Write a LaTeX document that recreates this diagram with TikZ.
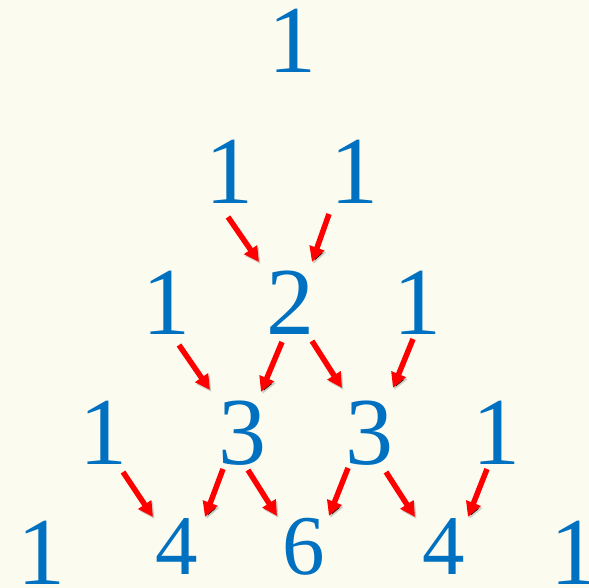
\documentclass[tikz,border=0pt]{standalone}
\usepackage{fontspec}
\setmainfont{Liberation Serif}
\usetikzlibrary{arrows.meta}
\definecolor{bg}{HTML}{FBFBF0}
\definecolor{numblue}{HTML}{0070C0}
\definecolor{arrred}{HTML}{FF0000}
\begin{document}
\begin{tikzpicture}[x=1pt,y=-1pt,
  num/.style={text=numblue,inner sep=0pt,anchor=base,font=\fontsize{96}{96}\selectfont},
  numsm/.style={num,font=\fontsize{85}{85}\selectfont},
  arr/.style={draw=arrred,line width=5.5pt,-{Triangle[length=15pt,width=15pt]},
    preaction={draw=black,draw opacity=0.18,transform canvas={shift={(1.5,2)}}}}]
\fill[bg] (0,0) rectangle (589,588);
\useasboundingbox (0,0) rectangle (589,588);
% row 1
\node[num] (r1a) at (292,73) {1};
% row 2
\node[num] (r2a) at (229,204) {1};
\node[num] (r2b) at (354,204) {1};
% row 3
\node[num] (r3a) at (166,334) {1};
\node[num] (r3b) at (290.5,334) {2};
\node[num] (r3c) at (417,334) {1};
% row 4
\node[num] (r4a) at (103,464) {1};
\node[num] (r4b) at (242,464) {3};
\node[num] (r4c) at (369,464) {3};
\node[num] (r4d) at (496,464) {1};
% row 5
\node[num] (r5a) at (41,584) {1};
\node[numsm] (r5b) at (177,574) {4};
\node[numsm] (r5c) at (303.5,574) {6};
\node[numsm] (r5d) at (444,574) {4};
\node[num] (r5e) at (574,584) {1};
% arrows row 2 -> 3
\draw[arr] ([shift={(-1,13)}]r2a.base) -- ([shift={(-31.5,-72)}]r3b.base);
\draw[arr] ([shift={(-25,10)}]r2b.base) -- ([shift={(21.5,-72)}]r3b.base);
% arrows row 3 -> 4
\draw[arr] ([shift={(13,11)}]r3a.base) -- ([shift={(-32,-74)}]r4b.base);
\draw[arr] ([shift={(-8.5,8)}]r3b.base) -- ([shift={(19,-72)}]r4b.base);
\draw[arr] ([shift={(21.5,7)}]r3b.base) -- ([shift={(-27,-76)}]r4c.base);
\draw[arr] ([shift={(-4,5)}]r3c.base) -- ([shift={(24,-76)}]r4c.base);
% arrows row 4 -> 5
\draw[arr] ([shift={(20,8)}]r4a.base) -- ([shift={(-24,-57)}]r5b.base);
\draw[arr] ([shift={(-19,5)}]r4b.base) -- ([shift={(28,-57)}]r5b.base);
\draw[arr] ([shift={(6,6)}]r4b.base) -- ([shift={(-26.5,-58)}]r5c.base);
\draw[arr] ([shift={(-21,4)}]r4c.base) -- ([shift={(25.5,-58)}]r5c.base);
\draw[arr] ([shift={(17,8)}]r4c.base) -- ([shift={(-29,-57)}]r5d.base);
\draw[arr] ([shift={(-9,5)}]r4d.base) -- ([shift={(24,-57)}]r5d.base);
\end{tikzpicture}
\end{document}
